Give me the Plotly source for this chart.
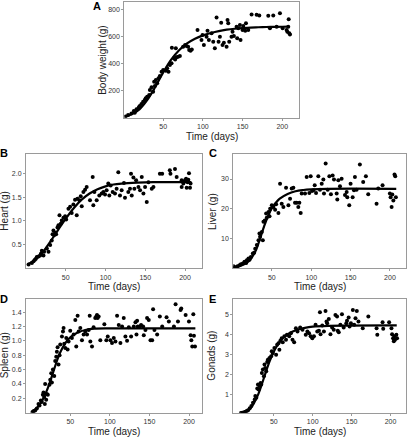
import plotly.graph_objects as go

# ---------------- Data ----------------
# Panel A: body weight (g)
a_days = [2.5, 5.8, 10, 13, 14.2, 16.3, 19.3, 20.5, 22.6, 24.7, 26.8, 28, 29.8, 32.3, 33.2, 35.3, 37.3, 38.6,
          39.5, 40.7, 42.4, 44, 45.8, 47.9, 50, 53.3, 55, 56.7, 58.4, 60.5, 60.9, 63.4, 65, 65.9, 66.8, 68.8,
          71, 75.1, 77.6, 79.3, 81.4, 82.7, 84.4, 86, 93.2, 98.2, 99.5, 101.2, 104.6, 105.8, 107.5, 110.9, 113,
          115, 117.2, 119.7, 121.4, 123, 124.7, 126.4, 129.8, 131, 131.9, 133.1, 136, 137.3, 139, 142.4, 143.2,
          144.5, 146.6, 147.4, 149.9, 150.8, 153.3, 154.2, 157.1, 161.3, 167.6, 171, 182.3, 184.4, 188.6,
          192.8, 197, 200.4, 205.4, 206.3, 207.5, 208.8, 209.6, 208]
a_weight = [8, 20, 32, 50, 37, 62, 77, 87, 101, 119, 131, 144, 156, 168, 205, 225, 193, 267,
            235, 279, 255, 292, 309, 341, 353, 348, 366, 341, 390, 403, 519, 440, 432, 514, 447, 452,
            457, 526, 538, 531, 526, 501, 496, 506, 650, 575, 612, 538, 600, 645, 575, 625, 563,
            514, 743, 563, 600, 704, 538, 556, 526, 724, 699, 563, 600, 637, 605, 674, 588,
            662, 687, 575, 650, 679, 645, 699, 650, 765, 763, 758, 756, 662, 758,
            674, 773, 662, 650, 637, 674, 625, 617, 729]
a_fit_days = [2, 10, 20, 30, 40, 50, 60, 70, 80, 90, 100, 110, 120, 130, 140, 150, 160, 170, 180, 190, 200, 208]
a_fit = [8, 25, 62, 132, 228, 335, 430, 500, 550, 585, 610, 628, 642, 652, 659, 664, 668, 670, 672, 673, 674, 675]

# Panel B: heart (g)
b_days = [3.2, 7.4, 9.5, 11.2, 12.4, 13.6, 15.7, 17.8, 18.7, 19.9, 22, 22.8, 26.2, 28.3, 30.4, 32.4, 33.4, 34.5,
          35.4, 36.6, 37.9, 39.6, 40.8, 42.1, 43.7, 45, 47.1, 49.2, 50.5, 53.4, 55.5, 57.5, 59.6, 61.7, 63.8,
          64.7, 67.2, 68.8, 70.1, 72.2, 74.3, 76.3, 80.5, 83.9, 84.7, 86, 88.9, 92.2, 95.2, 97.3, 99.4, 101.4,
          103.5, 104.8, 106.5, 109, 111.9, 114, 116.1, 118.2, 120.3, 123.2, 124.5, 128.7, 130.8, 132.1, 133,
          135.1, 136.3, 138.5, 141.4, 143.5, 145.6, 147.7, 149.8, 151.9, 154, 158.2, 160.3, 168.4, 171.3,
          180.9, 181.7, 187.4, 189.5, 195.8, 195.8, 197.9, 200, 201.3, 202.1, 203.4, 204.2, 205, 206.3, 207]
b_heart = [0.08, 0.11, 0.15, 0.18, 0.2, 0.24, 0.25, 0.27, 0.31, 0.37, 0.27, 0.35, 0.42, 0.35, 0.49, 0.59, 0.72, 0.8,
           0.7, 0.75, 0.72, 0.86, 0.91, 1.12, 0.94, 1.01, 1.07, 1.1, 1.03, 1.26, 1.3, 1.17, 1.35, 1.45, 1.12,
           1.47, 1.44, 1.52, 1.31, 1.61, 1.66, 1.72, 1.44, 1.93, 1.33, 1.61, 1.44, 1.54, 1.58, 1.61, 1.56, 1.65,
           1.79, 1.54, 1.75, 1.61, 1.58, 1.68, 2.03, 1.54, 1.65, 1.8, 1.49, 1.61, 1.68, 2.0, 1.54,
           1.92, 1.68, 1.86, 1.72, 1.65, 1.93, 1.58, 1.72, 1.4, 1.82, 1.68, 1.72, 2.0, 2.0,
           2.07, 2.0, 2.1, 1.93, 1.72, 1.86, 1.79, 1.86, 1.89, 1.7, 1.82, 1.87, 2.01, 1.7, 1.79]
b_fit_days = [3, 10, 20, 30, 40, 50, 60, 70, 80, 90, 100, 110, 120, 140, 160, 208]
b_fit = [0.09, 0.16, 0.32, 0.55, 0.8, 1.05, 1.27, 1.45, 1.58, 1.67, 1.73, 1.77, 1.79, 1.81, 1.82, 1.82]

# Panel C: liver (g)
c_days = [1.3, 3.4, 6.4, 8.9, 10.6, 13.1, 15.2, 17.4, 18.2, 20.3, 21.6, 23.3, 25.8, 27.5, 28.8, 30.9, 33, 34.2,
          35, 37.2, 38.5, 39.3, 41, 42.7, 43.5, 45.7, 47, 47.8, 49.9, 52, 54.1, 55.4, 58.3, 60.4, 62.5, 64.6,
          68, 71, 73.1, 75.2, 77.3, 79.4, 81.5, 83.6, 84.9, 86.6, 87.9, 92.1, 94.2, 97.6, 99.3, 101, 102.7,
          104.4, 106.1, 109, 111.1, 113.3, 115.4, 116.2, 118.3, 120.9, 123, 125, 127.2, 128.9, 132.3, 133.1,
          134.4, 136.5, 138.6, 142.9, 145, 145.8, 148.3, 150, 152.6, 154.3, 155.5, 157.6, 161.8, 166, 169.4,
          172.4, 183, 185.1, 190.6, 199.9, 200.8, 202.1, 203, 204.3, 205.8, 206.7, 207.5]
c_liver = [0.7, 0.3, 0.7, 1.0, 1.4, 1.6, 2.2, 1.8, 2.7, 3.3, 2.9, 3.8, 5.0, 5.2, 6.6, 7.8, 9.4, 11.7,
           10.6, 12.2, 9.4, 15.6, 16.1, 18.4, 17, 18.9, 17.5, 20.0, 21.2, 20.6, 19.7, 21.5, 18.6, 28.4, 21.7, 20.6,
           27.1, 21.2, 23.4, 26.8, 27.1, 22, 22, 20.6, 22, 18.6, 25.1, 25.1, 30.7, 25.3, 30.9, 26, 26.2,
           27.9, 25.3, 30.9, 26.4, 28.4, 29.8, 25.1, 35.2, 26.4, 30.9, 24.9, 31.2, 29.8, 25.1, 23.1,
           29.6, 27.6, 30.1, 24.6, 25.6, 23.9, 21.2, 28.4, 23.9, 26.2, 30.7, 26.4, 34.9, 29, 30.9,
           24.9, 21.7, 26.8, 27.9, 25.1, 23.9, 20.6, 24.8, 22.8, 31.5, 30.9, 23.9]
c_fit_days = [1, 10, 20, 25, 30, 35, 40, 45, 50, 55, 60, 70, 80, 90, 100, 120, 208]
c_fit = [0.5, 0.8, 2.2, 3.8, 6.2, 10, 14, 17.5, 20.2, 22, 23.4, 25, 25.9, 26.3, 26.5, 26.7, 26.7]

# Panel D: spleen (g)
d_days = [2.2, 3.5, 5.6, 7.7, 9.8, 11.1, 12.8, 14, 15.3, 16.1, 17, 17.8, 18.2, 19.5, 20.4, 21.6, 23.7, 24.6,
          25.9, 26.7, 28, 29.7, 30.9, 32.2, 33, 33.9, 35.1, 36.4, 37.3, 39.4, 40.7, 41.5, 42.3, 43.6, 44.9,
          46.6, 47.8, 49.9, 52, 54.2, 56.3, 57.5, 59.2, 60.5, 62.6, 64.7, 66.8, 68.9, 71.1, 73.2, 74.5, 75.3,
          77.4, 79.4, 81.5, 82.8, 83.7, 84.5, 85.8, 87.9, 93, 95.5, 97.3, 100.6, 102.7, 104.9, 107, 109.1,
          111.2, 113.3, 115.4, 117.5, 119.6, 121.7, 123.9, 126.8, 130.2, 132.3, 133.6, 134.4, 135.2, 137.8,
          139.4, 142, 142.8, 144.9, 147, 149.1, 151.3, 153.4, 154.6, 156.3, 159.7, 163.1, 166.1, 171.6, 174.5,
          180.9, 183, 186, 189.3, 190.2, 195.7, 199.9, 202, 202.9, 204.1, 205.4, 206.2, 207.5]
d_spleen = [0.01, 0.02, 0.03, 0.06, 0.12, 0.1, 0.17, 0.15, 0.25, 0.28, 0.22, 0.12, 0.4, 0.18, 0.26, 0.25, 0.39, 0.46,
            0.55, 0.42, 0.6, 0.51, 0.72, 0.78, 0.85, 0.91, 0.67, 0.8, 0.95, 1.06, 1.13, 1.18, 0.96, 0.9, 1.04,
            0.88, 0.99, 1.14, 1.04, 1.09, 1.29, 0.92, 1.35, 1.13, 1.18, 1.01, 1.09, 1.13, 1.09, 1.15, 1.35, 0.99,
            0.92, 1.19, 1.32, 1.34, 1.36, 1.32, 1.34, 1.01, 1.23, 1.01, 1.06, 1.01, 0.97, 1.04, 0.99, 1.35,
            1.22, 0.97, 1.2, 1.32, 1.06, 1.0, 1.19, 1.06, 1.2, 1.26, 1.09, 1.28, 1.2, 1.2,
            1.22, 1.2, 1.08, 1.15, 1.32, 1.29, 1.01, 1.01, 1.44, 1.15, 1.09, 1.34, 1.2, 1.33, 1.27,
            1.2, 1.51, 1.27, 1.43, 1.45, 1.36, 1.27, 1.08, 1.01, 0.92, 1.37, 1.07, 0.92]
d_fit_days = [2, 8, 14, 20, 25, 30, 35, 40, 45, 50, 55, 60, 70, 80, 100, 208]
d_fit = [0.02, 0.07, 0.16, 0.3, 0.45, 0.62, 0.78, 0.9, 0.99, 1.05, 1.09, 1.12, 1.155, 1.17, 1.175, 1.175]

# Panel E: gonads (g)
e_days = [7.7, 9.4, 11.9, 13.6, 15.3, 17, 19.1, 21.2, 23.3, 25.5, 26.3, 27.6, 28.8, 29.7, 30.5, 31.8, 33.1, 33.9,
          34.7, 36, 37.3, 38.1, 39, 40.3, 41.5, 42.4, 44.5, 46.6, 47.4, 48.7, 50.8, 53, 54.3, 56, 57.2, 58.5,
          60.2, 61.5, 63.6, 65.7, 66.9, 69.9, 72, 74.1, 76.2, 78.4, 80.5, 83.9, 86.9, 91.1, 93.2, 95.3, 97.4,
          99.5, 101.6, 103.7, 105.9, 108, 109.3, 110.1, 112.3, 114.4, 116.5, 117.8, 118.6, 120.7, 122.8, 125,
          127.1, 129.2, 131.3, 132.2, 133.5, 135.6, 137.6, 139.8, 143.2, 144.1, 146.2, 147.4, 149.1, 151.6,
          153.3, 155, 156.7, 158.8, 164.3, 171.5, 182.1, 183, 189.8, 190.6, 198.2, 201.2, 202, 203.3, 204.2,
          205, 205.8, 207.5, 208.4]
e_gonads = [0.07, 0.08, 0.1, 0.13, 0.17, 0.2, 0.3, 0.42, 0.58, 0.75, 0.92, 0.83, 1.3, 1.5, 1.25, 1.42, 1.58, 1.5,
            2.08, 2.25, 1.92, 2.5, 2.33, 2.17, 2.63, 2.75, 2.83, 2.92, 3.17, 3.08, 3.33, 3.0, 3.5, 3.58, 3.25, 3.7,
            3.83, 3.63, 3.92, 3.75, 4.0, 3.92, 4.08, 3.75, 3.63, 4.33, 4.17, 4.37, 4.25, 4.0, 4.17, 4.08, 3.92,
            3.83, 3.92, 4.5, 4.17, 4.2, 5.13, 4.03, 4.47, 4.17, 5.2, 4.67, 4.58, 4.8, 4.03, 4.37,
            4.25, 5.0, 4.92, 4.2, 4.13, 4.5, 5.03, 4.37, 4.58, 4.7, 4.87, 4.42, 4.58, 5.25,
            4.5, 4.83, 5.2, 4.67, 4.33, 4.92, 4.33, 4.0, 4.63, 4.3, 4.63, 4.33, 4.03, 3.83, 3.67,
            3.92, 3.75, 4.0, 3.83]
e_fit_days = [8, 15, 20, 25, 30, 35, 40, 45, 50, 55, 60, 70, 80, 90, 100, 120, 208]
e_fit = [0.08, 0.15, 0.3, 0.6, 1.0, 1.55, 2.15, 2.7, 3.15, 3.5, 3.78, 4.08, 4.25, 4.35, 4.41, 4.45, 4.47]

x_ticks = [50, 100, 150, 200]
a_yticks = [200, 400, 600, 800]
b_yticks = [0.5, 1.0, 1.5, 2.0]
b_yticklabels = ["0.5", "1.0", "1.5", "2.0"]
c_yticks = [10, 20, 30]
d_yticks = [0.2, 0.4, 0.6, 0.8, 1.0, 1.2, 1.4]
d_yticklabels = ["0.2", "0.4", "0.6", "0.8", "1.0", "1.2", "1.4"]
e_yticks = [1, 2, 3, 4, 5]

panel_letters = ["A", "B", "C", "D", "E"]
y_titles = ["Body weight (g)", "Heart (g)", "Liver (g)", "Spleen (g)", "Gonads (g)"]
x_title = "Time (days)"

# ---------------- Layout geometry (pixels) ----------------
W, H = 410, 440
FONT = "Liberation Sans, Arial, sans-serif"

panels = [
    (a_days, a_weight, a_fit_days, a_fit, (124.3, 299.0), (2.3, 117.7), [1, 221], [0, 855], a_yticks, None),
    (b_days, b_heart, b_fit_days, b_fit, (26.0, 201.7), (154.0, 268.3), [0, 221], [0, 2.415], b_yticks, b_yticklabels),
    (c_days, c_liver, c_fit_days, c_fit, (233.3, 405.7), (154.0, 268.3), [1, 220], [0, 38.4], c_yticks, None),
    (d_days, d_spleen, d_fit_days, d_fit, (26.0, 201.7), (299.0, 412.7), [-6, 216], [0, 1.583], d_yticks, d_yticklabels),
    (e_days, e_gonads, e_fit_days, e_fit, (233.3, 405.7), (299.0, 412.7), [-2, 219.5], [0.08, 5.8], e_yticks, None),
]

fig = go.Figure()
layout = dict(
    width=W, height=H,
    margin=dict(l=0, r=0, t=0, b=0),
    paper_bgcolor="white", plot_bgcolor="white",
    showlegend=False,
    font=dict(family=FONT, color="#222"),
    annotations=[],
)

for i, (dx, dy, fx, fy, xp, yp, xr, yr, yt, ytt) in enumerate(panels):
    n = "" if i == 0 else str(i + 1)
    xa, ya = "x" + n, "y" + n
    fig.add_trace(go.Scatter(x=dx, y=dy, mode="markers", xaxis=xa, yaxis=ya,
                             marker=dict(color="black", size=4, line=dict(width=0)),
                             cliponaxis=True))
    fig.add_trace(go.Scatter(x=fx, y=fy, mode="lines", xaxis=xa, yaxis=ya,
                             line=dict(color="black", width=2.2, shape="spline", smoothing=1.0)))
    axstyle = dict(showline=True, linecolor="#9a9a9a", linewidth=1, mirror=True,
                   showgrid=False, zeroline=False, ticks="outside", ticklen=2,
                   tickcolor="#9a9a9a", tickfont=dict(family=FONT, size=7, color="#333"))
    layout["xaxis" + n] = dict(domain=[xp[0] / W, xp[1] / W], anchor=ya, range=xr,
                               tickvals=x_ticks, **axstyle)
    yax = dict(domain=[1 - yp[1] / H, 1 - yp[0] / H], anchor=xa, range=yr,
               tickvals=yt, **axstyle)
    if ytt is not None:
        yax["ticktext"] = ytt
    layout["yaxis" + n] = yax

    cx = (xp[0] + xp[1]) / 2
    cy = (yp[0] + yp[1]) / 2
    layout["annotations"].append(dict(
        text=x_title, xref="paper", yref="paper", x=cx / W, y=1 - (yp[1] + 18.5) / H,
        xanchor="center", yanchor="middle", showarrow=False,
        font=dict(family=FONT, size=10, color="#222")))
    layout["annotations"].append(dict(
        text=y_titles[i], xref="paper", yref="paper", x=(xp[0] - 21.5) / W, y=1 - cy / H,
        xanchor="center", yanchor="middle", textangle=-90, showarrow=False,
        font=dict(family=FONT, size=10, color="#222")))

letter_pos = [(97.3, 6.0), (4.0, 153.3), (212.7, 153.3), (4.0, 299.0), (212.7, 299.0)]
for L, (lx, ly) in zip(panel_letters, letter_pos):
    layout["annotations"].append(dict(
        text="<b>" + L + "</b>", xref="paper", yref="paper", x=lx / W, y=1 - ly / H,
        xanchor="center", yanchor="middle", showarrow=False,
        font=dict(family=FONT, size=11, color="black")))

fig.update_layout(**layout)
fig.write_html("out.html", config={"displayModeBar": False},
               post_script="document.body.style.margin='0';document.body.style.overflow='hidden';")
